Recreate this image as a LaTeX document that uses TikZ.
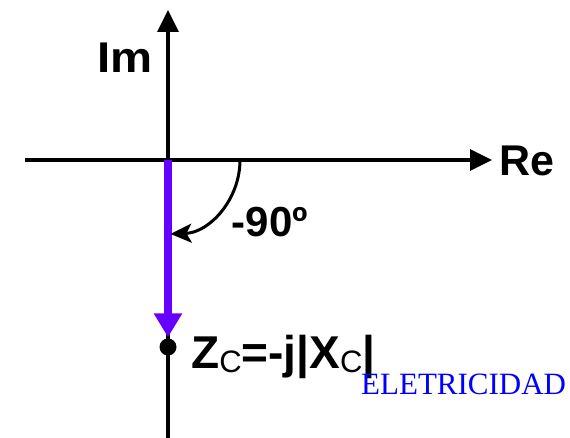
\documentclass[tikz,border=0pt]{standalone}
\usepackage{fontspec}
\setmainfont{Liberation Sans}
\newfontfamily\markfont{Liberation Serif}
\usetikzlibrary{arrows.meta}
\definecolor{phasor}{RGB}{102, 0, 255}
\definecolor{markblue}{RGB}{0, 0, 255}
\newcommand{\subc}{{\fontsize{31}{31}\selectfont\mdseries\raisebox{-4pt}{C}}}

\begin{document}
\begin{tikzpicture}[x=1pt, y=-1pt, >=Stealth, font=\bfseries,
    axis/.style={line width=3.2pt, -{Triangle[length=22pt, width=21pt]}},
    axislabel/.style={font=\fontsize{43}{43}\selectfont\bfseries, inner sep=0pt}]
  \useasboundingbox (0,0) rectangle (570,438);
  \coordinate (O) at (168,160);
  \coordinate (reW) at (25,160);
  \coordinate (reE) at (492,160);
  \coordinate (imS) at (168,438);
  \coordinate (imN) at (168,10);
  \draw[axis] (reW) -- (reE);
  \draw[axis] (imS) -- (imN);
  \node[axislabel, anchor=west] (re) at (499,161) {Re};
  \node[axislabel, xscale=1.1] (im) at (125,58) {Im};
  \node[circle, fill=black, inner sep=0pt, minimum size=17pt] (zc) at (168,347) {};
  \draw[phasor, line width=8.5pt, -{Triangle[length=24pt, width=27pt]}, shorten >=1pt]
    (O) -- (zc.north);
  \draw[line width=3pt, -{Stealth[length=21pt, width=19pt, inset=5pt]}]
    (O) ++(72,0) arc[start angle=0, end angle=88, x radius=72, y radius=74];
  \node[font=\fontsize{42}{42}\selectfont\bfseries, inner sep=0pt] (ang) at (270,222) {-90º};
  \node[font=\fontsize{46}{46}\selectfont\bfseries, anchor=base west, inner sep=0pt]
    (zlabel) at (191,368) {Z\subc=-j|X\subc|};
  \node[markblue, font=\markfont\fontsize{31}{31}\selectfont, anchor=base west, inner sep=0pt]
    (mark) at (361,394) {ELETRICIDAD};
\end{tikzpicture}
\end{document}
